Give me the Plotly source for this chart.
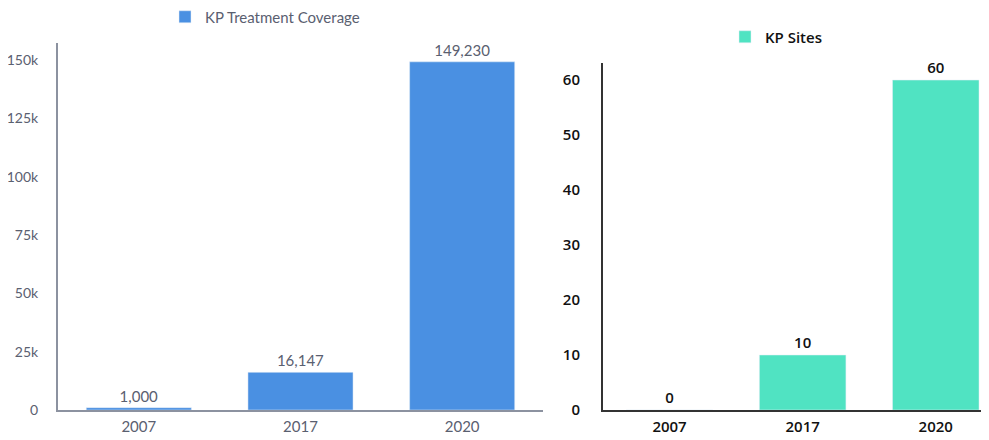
import plotly.graph_objects as go

years = ["2007", "2017", "2020"]
coverage = [1000, 16147, 149230]
sites = [0, 10, 60]
coverage_labels = ["1,000", "16,147", "149,230"]
sites_labels = ["0", "10", "60"]

W, H = 989, 440
OFF = 8  # page body margin offset


def fx(px):
    return (px - OFF) / W


def fy(py):
    return (H - (py - OFF)) / H


LEFT_FONT = dict(family="Lato", size=15, color="#5a6070")
LEFT_TICK_FONT = dict(family="Lato", size=14, color="#5a6070")
RIGHT_FONT = dict(family="Open Sans", size=15, color="#111111", weight=600)

fig = go.Figure()
fig.add_trace(go.Bar(
    x=years, y=coverage, name="KP Treatment Coverage",
    marker_color="#4a90e2", text=coverage_labels, textposition="outside",
    textfont=LEFT_FONT,
    cliponaxis=False, xaxis="x", yaxis="y", legend="legend",
))
fig.add_trace(go.Bar(
    x=years, y=sites, name="KP Sites",
    marker_color="#50e3c2", text=sites_labels, textposition="outside",
    textfont=RIGHT_FONT,
    cliponaxis=False, xaxis="x2", yaxis="y2", legend="legend2",
))

fig.update_layout(
    width=W, height=H,
    margin=dict(l=0, r=0, t=0, b=0, autoexpand=False),
    paper_bgcolor="white", plot_bgcolor="white",
    font=dict(family="Lato", size=15),
    bargap=0.35,
    showlegend=True,
    xaxis=dict(domain=[fx(58), fx(543)], range=[-0.5, 2.5], anchor="y",
               showline=True, linecolor="#8c92a0", linewidth=2,
               showgrid=False, ticks="", zeroline=False, ticklabelstandoff=2,
               automargin=False, tickfont=LEFT_FONT),
    yaxis=dict(domain=[fy(410), fy(43)], range=[0, 157300], anchor="x",
               showline=True, linecolor="#8c92a0", linewidth=2,
               showgrid=False, zeroline=False, dtick=25000, tickformat="~s",
               ticklabelstandoff=15, automargin=False,
               tickfont=LEFT_TICK_FONT),
    xaxis2=dict(domain=[fx(603), 1.0], range=[-0.5, 2.46], anchor="y2",
                showline=True, linecolor="#333333", linewidth=2,
                showgrid=False, ticks="", zeroline=False, ticklabelstandoff=2,
                automargin=False, tickfont=RIGHT_FONT),
    yaxis2=dict(domain=[fy(410), fy(63)], range=[0, 63.1], anchor="x2",
                showline=True, linecolor="#333333", linewidth=2,
                showgrid=False, zeroline=False, dtick=10,
                ticklabelstandoff=18, automargin=False,
                tickfont=RIGHT_FONT),
    legend=dict(x=fx(165), y=fy(17), xanchor="left", yanchor="middle",
                orientation="h", bgcolor="rgba(0,0,0,0)",
                font=LEFT_FONT),
    legend2=dict(x=fx(725), y=fy(37), xanchor="left", yanchor="middle",
                 orientation="h", bgcolor="rgba(0,0,0,0)",
                 font=RIGHT_FONT),
)

fig.write_html("out.html")
